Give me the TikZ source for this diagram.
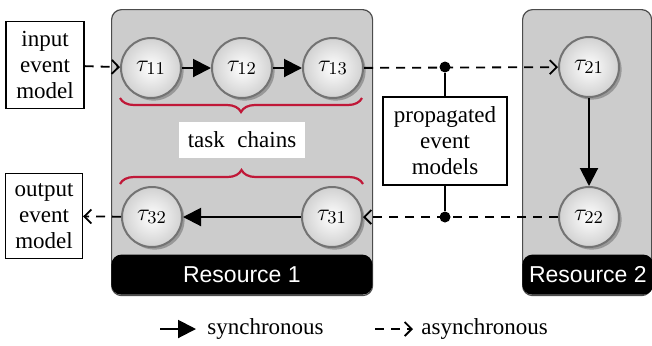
\documentclass[tikz,border=0pt]{standalone}
\usepackage{fontspec}
\setmainfont{Liberation Serif}
\setsansfont{Liberation Sans}
\usetikzlibrary{arrows.meta,shadows,decorations.pathreplacing}
\definecolor{braceRed}{RGB}{192,24,56}
\definecolor{boxGray}{RGB}{204,204,204}
\begin{document}
\begin{tikzpicture}[x=0.5pt,y=-0.5pt,
  font=\fontsize{11.5}{13}\selectfont,
  task/.style={circle, minimum size=30pt, inner sep=0pt, draw=black!55, line width=1pt,
    inner color=white, outer color=black!18, font=\fontsize{13}{15}\selectfont,
    drop shadow={shadow xshift=1.3pt, shadow yshift=-1.3pt, fill=black!60, opacity=0.5}},
  resbox/.style={draw=black!70, line width=0.6pt, fill=boxGray, rounded corners=5pt},
  resbar/.style={fill=black, rounded corners=5pt, text=white, font=\sffamily\fontsize{11.5}{13}\selectfont},
  infobox/.style={draw=black, line width=0.6pt, fill=white, align=center, inner sep=0pt},
  sync/.style={line width=1pt, -{Triangle[length=9pt,width=9pt]}},
  async/.style={line width=0.9pt, dash pattern=on 4.5pt off 3.5pt, -{Straight Barb[length=3.5pt,width=7pt,line width=0.9pt]}},
  chainbrace/.style={draw=braceRed, line width=1.1pt, decorate, decoration={brace, amplitude=7pt}},
  dot/.style={circle, fill=black, inner sep=0pt, minimum size=5.5pt}]
\useasboundingbox (0,0) rectangle (652,345);

% resources
\node[resbox, minimum width=130.5pt, minimum height=143pt, anchor=north west] (r1) at (111,9) {};
\node[resbar, minimum width=130.5pt, minimum height=20pt, anchor=south west] (r1bar) at (111,295) {Resource 1};
\node[resbox, minimum width=64.5pt, minimum height=143pt, anchor=north west] (r2) at (522,9) {};
\node[resbar, minimum width=64.5pt, minimum height=20pt, anchor=south west] (r2bar) at (522,295) {Resource 2};

% braces and label
\coordinate (b1s) at (362,98);
\coordinate (b1e) at (120,98);
\draw[chainbrace] (b1s) -- (b1e);
\coordinate (b2s) at (120,184);
\coordinate (b2e) at (363,184);
\draw[chainbrace] (b2s) -- (b2e);
\node[fill=white, minimum width=63pt, minimum height=18pt, inner sep=0pt] (tc) at (242,140) {task\hspace{0.3em} chains};

% tasks
\node[task] (t11) at (151,68) {$\tau_{11}$};
\node[task] (t12) at (242,68) {$\tau_{12}$};
\node[task] (t13) at (333,68) {$\tau_{13}$};
\node[task] (t21) at (589,67) {$\tau_{21}$};
\node[task] (t22) at (589,217) {$\tau_{22}$};
\node[task] (t31) at (332,217) {$\tau_{31}$};
\node[task] (t32) at (152,217) {$\tau_{32}$};

% event model boxes
\node[infobox, minimum width=39pt, minimum height=43.5pt] (in) at (45,65) {input\\event\\model};
\node[infobox, minimum width=38.5pt, minimum height=42.5pt] (out) at (44,216) {output\\event\\model};
\node[infobox, minimum width=62pt, minimum height=44pt] (prop) at (445,141) {propagated\\event\\models};

\node[dot] (d1) at (445,67) {};
\node[dot] (d2) at (445,217) {};

% connectors
\draw[sync] (t11) -- (t12);
\draw[sync] (t12) -- (t13);
\draw[sync] (t21) -- (t22);
\draw[sync] (t31) -- (t32);
\draw[async] (in) -- (t11);
\draw[async] (t13) -- (t21);
\draw[async] (t22) -- (t31);
\draw[async] (t32) -- (out);
\draw[line width=0.6pt] (d1) -- (prop);
\draw[line width=0.6pt] (d2) -- (prop);

% legend
\coordinate (ls1) at (160,329);
\coordinate (ls2) at (196,329);
\draw[sync] (ls1) -- (ls2);
\node[anchor=west, inner sep=0pt] (lsync) at (207,329) {synchronous};
\coordinate (la1) at (375,329);
\coordinate (la2) at (413,329);
\draw[async] (la1) -- (la2);
\node[anchor=west, inner sep=0pt] (lasync) at (421,329) {asynchronous};
\end{tikzpicture}
\end{document}
